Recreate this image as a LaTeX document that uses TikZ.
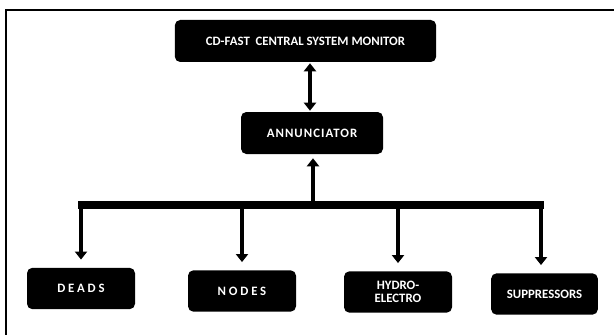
\documentclass[tikz,border=0pt]{standalone}
\usepackage{fontspec}
\setmainfont{Carlito}
\usetikzlibrary{arrows.meta}
\begin{document}
\begin{tikzpicture}[x=0.75pt,y=-0.75pt,
  blk/.style={fill=black,rounded corners=4pt,text=white,font=\bfseries\fontsize{9.6}{10}\selectfont,align=center,inner sep=0pt},
  conn/.style={line width=3.3pt,-{Triangle[length=6pt,width=9pt]}},
  bus/.style={line width=6pt}]
\useasboundingbox (0,0) rectangle (614,335);
\draw[line width=1.6pt] (6,335) -- (6,10) -- (614,10);
\node[blk,minimum width=196pt,minimum height=31.5pt] (top) at (305.5,41) {CD-FAST\ \ CENTRAL SYSTEM MONITOR};
\node[blk,minimum width=106.5pt,minimum height=31.5pt] (ann) at (312,133) {\addfontfeatures{LetterSpace=8}ANNUNCIATOR};
\node[blk,minimum width=81pt,minimum height=31pt] (deads) at (81,288.5) {\addfontfeatures{LetterSpace=22}DEADS};
\node[blk,minimum width=81pt,minimum height=31pt] (nodes) at (242,291) {\addfontfeatures{LetterSpace=22}NODES};
\node[blk,minimum width=81pt,minimum height=31pt] (hydro) at (398,292) {HYDRO-\\ELECTRO};
\node[blk,minimum width=80pt,minimum height=31pt] (supp) at (544.5,294) {SUPPRESSORS};
\coordinate (bl) at (78,205);
\coordinate (br) at (544,205);
\coordinate (bm) at (313,205);
\draw[bus] (bl) -- (br);
\draw[line width=3.3pt,{Triangle[length=6pt,width=9pt]}-{Triangle[length=6pt,width=9pt]}] ([yshift=-0.75pt]top.south -| 310,0) -- ([yshift=0.75pt]ann.north -| 310,0);
\draw[conn] (bm) -- ([yshift=-3pt]ann.south -| bm);
\draw[conn] ([yshift=2.25pt]bl -| deads) -- ([yshift=6pt]deads.north);
\draw[conn] (bm -| nodes) -- ([yshift=6pt]nodes.north);
\draw[conn] (bm -| hydro) -- ([yshift=6pt]hydro.north);
\draw[conn] ([yshift=2.25pt]br -| 541,0) -- ([yshift=6pt]supp.north -| 541,0);
\end{tikzpicture}
\end{document}
